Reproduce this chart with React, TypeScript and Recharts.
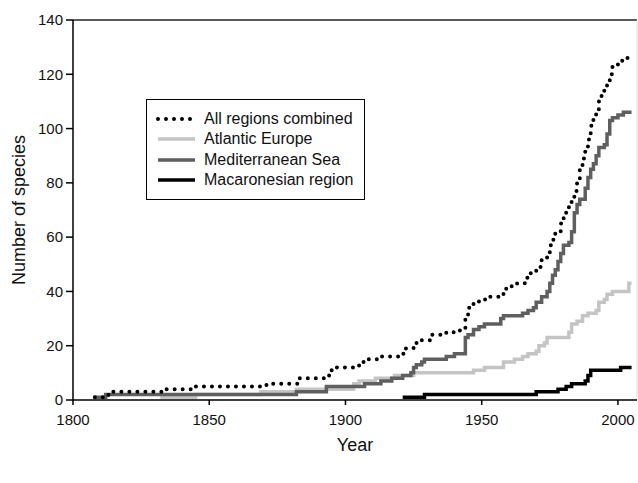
import { LineChart, Line, XAxis, YAxis, ReferenceLine, Label } from "recharts";

const allYears = [1808, 1813, 1833, 1845, 1871, 1883, 1894, 1896, 1905, 1908, 1913, 1921, 1922, 1925, 1928, 1931, 1937, 1942, 1944, 1945, 1947, 1949, 1952, 1958, 1961, 1963, 1966, 1968, 1970, 1972, 1974, 1975, 1976, 1977, 1979, 1980, 1981, 1982, 1983, 1984, 1985, 1986, 1987, 1988, 1989, 1990, 1991, 1992, 1993, 1994, 1995, 1996, 1997, 1998, 2000, 2002, 2005];
const allCounts = [1, 3, 4, 5, 6, 8, 11, 12, 14, 15, 16, 17, 19, 21, 22, 24, 25, 26, 31, 34, 36, 37, 38, 41, 42, 43, 45, 47, 49, 52, 54, 57, 59, 62, 65, 67, 70, 72, 74, 77, 80, 85, 89, 93, 96, 101, 105, 107, 110, 113, 115, 117, 120, 123, 125, 126, 126];

const atlYears = [1832, 1845, 1869, 1882, 1903, 1905, 1911, 1918, 1925, 1947, 1951, 1958, 1962, 1965, 1967, 1970, 1971, 1973, 1974, 1982, 1983, 1985, 1987, 1989, 1992, 1993, 1995, 1996, 1998, 2004, 2005];
const atlCounts = [1, 2, 3, 4, 6, 7, 8, 9, 10, 11, 12, 14, 15, 16, 17, 18, 20, 21, 23, 25, 28, 29, 31, 32, 33, 36, 37, 39, 40, 43, 43];

const medYears = [1808, 1812, 1882, 1893, 1907, 1913, 1917, 1921, 1924, 1925, 1926, 1928, 1929, 1937, 1940, 1944, 1945, 1947, 1949, 1951, 1957, 1958, 1965, 1967, 1969, 1970, 1972, 1974, 1975, 1976, 1977, 1978, 1979, 1980, 1982, 1983, 1984, 1985, 1986, 1988, 1989, 1990, 1991, 1992, 1993, 1995, 1996, 1997, 1998, 2000, 2002, 2005];
const medCounts = [1, 2, 3, 5, 6, 7, 8, 9, 10, 12, 13, 14, 15, 16, 17, 23, 24, 26, 27, 28, 30, 31, 32, 33, 34, 36, 38, 40, 43, 46, 48, 51, 54, 57, 58, 62, 69, 72, 74, 78, 82, 85, 87, 90, 93, 94, 98, 103, 104, 105, 106, 106];

const macYears = [1921, 1929, 1970, 1978, 1981, 1983, 1988, 1989, 1990, 2001, 2005];
const macCounts = [1, 2, 3, 4, 5, 6, 7, 9, 11, 12, 12];

const yTicks = [0, 20, 40, 60, 80, 100, 120, 140];
const xTicks = [1800, 1850, 1900, 1950, 2000];

const toRows = (years: number[], counts: number[]) => years.map((year, i) => ({ year, n: counts[i] }));

const series = [
  { name: "All regions combined", data: toRows(allYears, allCounts), color: "#000", width: 4, dash: "0 8" },
  { name: "Atlantic Europe", data: toRows(atlYears, atlCounts), color: "#c4c4c4", width: 3.5, dash: undefined },
  { name: "Mediterranean Sea", data: toRows(medYears, medCounts), color: "#5f5f5f", width: 3.5, dash: undefined },
  { name: "Macaronesian region", data: toRows(macYears, macCounts), color: "#000", width: 3.5, dash: undefined },
];
// draw order: light grey under dark grey, dotted on top
const drawOrder = [1, 2, 3, 0];

const FONT = "'Liberation Sans', Arial, sans-serif";

const LegendBox = () => (
  <div style={{ position: "absolute", left: 146, top: 99, width: 219, height: 101, border: "1.5px solid #000", background: "#fff", boxSizing: "border-box", fontFamily: FONT, fontSize: 16, color: "#111", paddingTop: 9 }}>
    {series.map((s) => (
      <div key={s.name} style={{ display: "flex", alignItems: "center", height: 20.3 }}>
        <svg width={57} height={10}>
          <line x1={11} x2={48} y1={5} y2={5} stroke={s.color} strokeWidth={s.width} strokeDasharray={s.dash} strokeLinecap={s.dash ? "round" : "butt"} />
        </svg>
        <span>{s.name}</span>
      </div>
    ))}
  </div>
);

export default function App() {
  return (
    <div style={{ position: "relative", width: 638, height: 483 }}>
      <style>{`body{margin:0}`}</style>
      <LineChart width={638} height={483} margin={{ top: 20, right: 1, bottom: 0, left: 0 }}>
        <XAxis
          type="number"
          dataKey="year"
          domain={[1800, 2007]}
          ticks={xTicks}
          allowDataOverflow
          stroke="#000"
          strokeWidth={1.5}
          tickSize={5}
          tickMargin={9}
          tick={{ fill: "#111", fontSize: 15, fontFamily: FONT }}
          height={83}
        >
          <Label value="Year" position="insideBottom" offset={32} style={{ fill: "#111", fontSize: 18, fontFamily: FONT }} />
        </XAxis>
        <YAxis
          domain={[0, 140]}
          ticks={yTicks}
          stroke="#000"
          strokeWidth={1.5}
          tickSize={7}
          tickMargin={3}
          width={73}
          tick={{ fill: "#111", fontSize: 15, fontFamily: FONT }}
        >
          <Label value="Number of species" angle={-90} position="insideLeft" offset={19} style={{ textAnchor: "middle", fill: "#111", fontSize: 18, fontFamily: FONT }} />
        </YAxis>
        <ReferenceLine y={140} stroke="#222" strokeWidth={1.5} />
        <ReferenceLine x={2007} stroke="#ddd" strokeWidth={1} />
        {drawOrder.map((i) => {
          const s = series[i];
          return (
            <Line
              key={s.name}
              data={s.data}
              dataKey="n"
              name={s.name}
              type="stepAfter"
              stroke={s.color}
              strokeWidth={s.width}
              strokeDasharray={s.dash}
              strokeLinecap={s.dash ? "round" : "butt"}
              dot={false}
              activeDot={false}
              isAnimationActive={false}
            />
          );
        })}
      </LineChart>
      <LegendBox />
    </div>
  );
}
